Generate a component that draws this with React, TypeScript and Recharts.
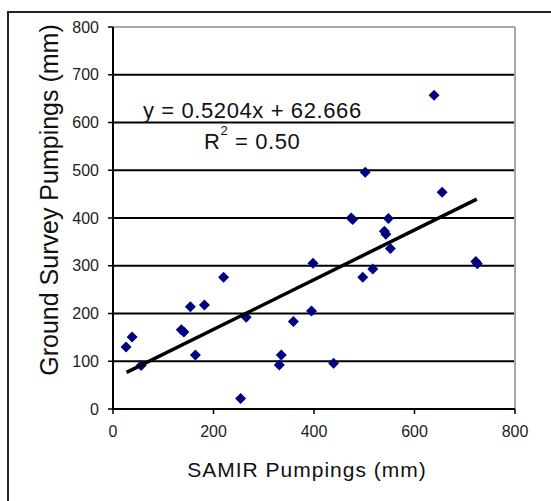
import React from 'react';
import { CartesianGrid, ReferenceLine, Scatter, ScatterChart, XAxis, YAxis } from 'recharts';

// SAMIR pumpings (x) vs ground survey pumpings (y), mm
const samirValues = [
    26, 38, 56, 136, 141, 154, 164, 182, 220, 254, 265, 331, 335, 359, 395, 398, 439,
    474, 477, 497, 502, 517, 540, 543, 548, 552, 639, 655, 722, 725,
];
const surveyValues = [
    130, 151, 91, 166, 161, 214, 113, 218, 276, 22, 192, 92, 113, 183, 205, 305, 96,
    400, 397, 276, 496, 293, 372, 366, 399, 336, 657, 454, 309, 304,
];

const slope = 0.5204;
const intercept = 62.666;
const trendRange = [27, 724];

const axisTicks = [0, 200, 400, 600, 800];
const yTicks = [0, 100, 200, 300, 400, 500, 600, 700, 800];

const points = samirValues.map((x, i) => ({ x, y: surveyValues[i] }));
const trend = trendRange.map((x) => ({ x, y: slope * x + intercept }));

const font = '"Liberation Sans", Arial, sans-serif';

const Diamond = (props: any) => {
    const { cx, cy } = props;
    const r = 5.5;
    return (
        <path
            d={`M${cx},${cy - r}L${cx + r},${cy}L${cx},${cy + r}L${cx - r},${cy}Z`}
            fill="#000080"
        />
    );
};

const App: React.FC = () => {
    return (
        <div style={{ position: 'absolute', left: 0, top: 0, width: 551, height: 501, background: '#fff', overflow: 'hidden' }}>
            <div
                style={{
                    position: 'absolute',
                    left: 7,
                    top: 11,
                    width: 560,
                    height: 500,
                    borderLeft: '2px solid #222',
                    borderTop: '2px solid #222',
                }}
            />
            <ScatterChart width={551} height={501} margin={{ top: 27, right: 36, bottom: 52, left: 53 }} style={{ position: 'absolute', left: 0, top: 0 }}>
                <CartesianGrid vertical={false} stroke="#000" strokeWidth={2} />
                <XAxis
                    type="number"
                    dataKey="x"
                    domain={[0, 800]}
                    ticks={axisTicks}
                    height={40}
                    axisLine={{ stroke: '#000', strokeWidth: 2 }}
                    tickLine={{ stroke: '#000', strokeWidth: 1.5 }}
                    tickSize={5}
                    tickMargin={12}
                    tick={{ fill: '#222', fontSize: 16, fontFamily: font }}
                />
                <YAxis
                    type="number"
                    dataKey="y"
                    domain={[0, 800]}
                    ticks={yTicks}
                    width={60}
                    axisLine={{ stroke: '#000', strokeWidth: 2 }}
                    tickLine={{ stroke: '#000', strokeWidth: 1.5 }}
                    tickSize={5}
                    tickMargin={9}
                    tick={{ fill: '#222', fontSize: 16, fontFamily: font }}
                />
                <ReferenceLine y={800} stroke="#a8a8a8" strokeWidth={2} />
                <ReferenceLine x={800} stroke="#a8a8a8" strokeWidth={2} />
                <Scatter data={points} shape={<Diamond />} isAnimationActive={false} />
                <Scatter
                    data={trend}
                    line={{ stroke: '#000', strokeWidth: 3.5 }}
                    shape={() => <g />}
                    isAnimationActive={false}
                />
            </ScatterChart>
            <svg width={551} height={501} style={{ position: 'absolute', left: 0, top: 0, pointerEvents: 'none' }}>
                <text x={143} y={118} fontFamily={font} fontSize={22} letterSpacing={0.6} fill="#111">
                    y = 0.5204x + 62.666
                </text>
                <text x={204} y={149} fontFamily={font} fontSize={22} letterSpacing={0.6} fill="#111">
                    R
                    <tspan dy={-14} fontSize={13}>2</tspan>
                    <tspan dy={14}> = 0.50</tspan>
                </text>
                <text x={307} y={477} textAnchor="middle" fontFamily={font} fontSize={21} letterSpacing={1} fill="#111">
                    SAMIR Pumpings (mm)
                </text>
                <text
                    x={0}
                    y={0}
                    transform="translate(58,200) rotate(-90)"
                    textAnchor="middle"
                    fontFamily={font}
                    fontSize={25}
                    fill="#111"
                >
                    Ground Survey Pumpings (mm)
                </text>
            </svg>
        </div>
    );
};

export default App;
